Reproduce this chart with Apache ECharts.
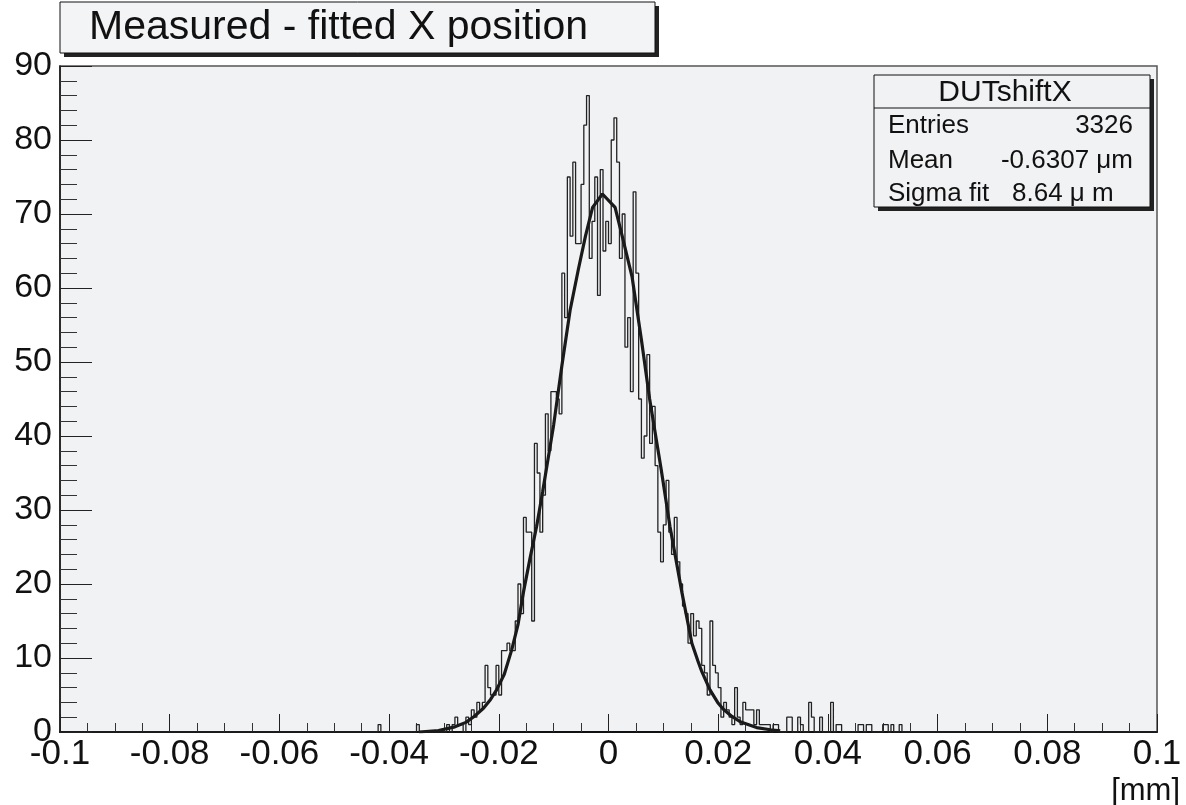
<!DOCTYPE html>
<html>
<head>
<meta charset="utf-8">
<script src="https://cdn.jsdelivr.net/npm/echarts/dist/echarts.min.js"></script>
<style>
html,body{margin:0;padding:0;background:#ffffff;}
#chart{width:1186px;height:805px;}
</style>
</head>
<body>
<div id="chart"></div>
<script>
// ---------------- data ----------------
const histTitle = 'Measured - fitted X position';
const statsName = 'DUTshiftX';
const statsLabels = ['Entries', 'Mean', 'Sigma fit'];
const statsValues = ['3326', '-0.6307 \u03bcm', '8.64 \u03bc m'];
const xUnit = '[mm]';
const xRange = [-0.1, 0.1];
const yRange = [0, 90];
const xStep = 0.02;
const yStep = 10;

// histogram: bins of width binWidth starting at binLow; counts start at bin index firstBin
const binLow = -0.1;
const binWidth = 0.0005;
const firstBin = 110;
const counts = [
  0,0,0,0,0,0,1,0,0,0,        // 110-119
  0,0,0,0,0,0,0,0,0,0,        // 120-129
  1,0,0,0,0,0,0,0,0,0,        // 130-139
  0,1,0,1,2,1,1,0,2,1,        // 140-149
  3,2,4,3,4,9,6,5,5,9,        // 150-159
  5,11,11,12,11,11,15,20,16,29,   // 160-169
  27,27,15,39,35,27,32,43,38,46,  // 170-179
  46,45,43,62,56,75,67,77,66,66,  // 180-189
  74,82,86,64,69,75,59,76,65,69,  // 190-199
  66,80,83,77,64,70,52,56,46,73,  // 200-209
  62,45,37,40,51,39,44,36,27,23,  // 210-219
  28,34,27,24,29,23,20,17,16,12,  // 220-229
  16,13,15,14,9,8,5,15,9,8,       // 230-239
  6,2,4,3,2,1,6,2,1,4,            // 240-249
  3,3,3,1,3,1,1,1,1,0,            // 250-259
  1,1,0,0,0,2,2,0,0,2,            // 260-269
  1,0,0,4,2,0,0,2,0,0,            // 270-279
  0,4,0,1,1,0,0,0,0,0,            // 280-289
  0,1,1,0,1,1,0,0,0,0,            // 290-299
  1,1,0,1,0,0,1,0,0,0             // 300-309
];

// gaussian fit curve
const fitX = [-0.0345,-0.031,-0.028,-0.026,-0.0245,-0.0228,-0.0215,-0.0204,-0.019,-0.01765,
  -0.0165,-0.01553,-0.0143,-0.0131,-0.012,-0.011,-0.010,-0.0085,-0.007,-0.0055,
  -0.0042,-0.0029,-0.0011,0.0012,0.0025,0.0043,0.006,0.0075,0.0096,0.0112,
  0.0134,0.0152,0.0163,0.017,0.0185,0.0199,0.0209,0.0225,0.024,0.027,0.0295,0.0313];
const fitY = [0.0,0.2,0.7,1.3,2.1,3.2,4.4,5.7,7.8,11.1,
  14.5,18.8,23.5,27.8,32.5,37.0,41.5,49.5,57.0,62.5,
  67.0,70.9,72.7,70.9,67.0,61.5,53.0,45.0,35.5,27.8,
  18.8,12.0,9.6,8.2,5.7,4.0,3.1,2.1,1.4,0.6,0.3,0.15];

// ---------------- build ----------------
const histPts = [[xRange[0], 0]];
counts.forEach((v, k) => {
  const lo = binLow + (firstBin + k) * binWidth;
  const hi = lo + binWidth;
  histPts.push([lo, v], [hi, v]);
});
histPts.push([xRange[1], 0]);
const fitPts = fitX.map((x, i) => [x, fitY[i]]);

const FONT = '"Liberation Sans", Arial, Helvetica, sans-serif';
const chart = echarts.init(document.getElementById('chart'), null, {renderer: 'canvas'});

const fmt = v => String(parseFloat(Number(v).toFixed(4)));

const option = {
  backgroundColor: '#ffffff',
  animation: false,
  textStyle: {fontFamily: FONT},
  grid: {
    left: 60, right: 29, top: 66, bottom: 73,
    show: true, backgroundColor: '#f1f2f4', borderColor: '#555', borderWidth: 1.5
  },
  xAxis: {
    type: 'value', min: xRange[0], max: xRange[1], interval: xStep,
    axisLine: {show: true, onZero: false, lineStyle: {color: '#111', width: 2}},
    axisTick: {show: true, inside: true, length: 18, lineStyle: {color: '#222', width: 1}},
    minorTick: {show: true, splitNumber: 4, length: 9, lineStyle: {color: '#333', width: 1}},
    splitLine: {show: false},
    axisLabel: {show: true, fontSize: 35, color: '#111', margin: 5, fontFamily: FONT, formatter: fmt}
  },
  yAxis: {
    type: 'value', min: yRange[0], max: yRange[1], interval: yStep,
    axisLine: {show: true, onZero: false, lineStyle: {color: '#111', width: 1.5}},
    axisTick: {show: true, inside: true, length: 32, lineStyle: {color: '#222', width: 1}},
    minorTick: {show: true, splitNumber: 5, length: 17, lineStyle: {color: '#333', width: 1}},
    splitLine: {show: false},
    axisLabel: {show: true, fontSize: 34, color: '#111', margin: 8, fontFamily: FONT}
  },
  series: [
    {
      type: 'line', data: histPts, symbol: 'none', silent: true,
      lineStyle: {color: '#222', width: 1.3}, z: 3
    },
    {
      type: 'line', data: fitPts, symbol: 'none', silent: true, smooth: false,
      lineStyle: {color: '#1a1a1a', width: 3.2}, z: 4
    }
  ],
  graphic: [
    // title pave
    {type: 'rect', shape: {x: 64, y: 6, width: 595, height: 51}, style: {fill: '#222'}, z: 10},
    {type: 'rect', shape: {x: 60, y: 2, width: 595, height: 51}, style: {fill: '#f3f4f6', stroke: '#111', lineWidth: 1}, z: 11},
    {type: 'text', x: 89, y: 28, style: {text: histTitle, font: '41px ' + FONT, fill: '#111', textVerticalAlign: 'middle', textAlign: 'left'}, z: 12},
    // stats box
    {type: 'rect', shape: {x: 878, y: 79, width: 276, height: 132}, style: {fill: '#222'}, z: 10},
    {type: 'rect', shape: {x: 874, y: 75, width: 276, height: 132}, style: {fill: '#f1f2f4', stroke: '#111', lineWidth: 1}, z: 11},
    {type: 'line', shape: {x1: 874, y1: 108, x2: 1150, y2: 108}, style: {stroke: '#111', lineWidth: 1}, z: 12},
    {type: 'text', x: 1005, y: 93, style: {text: statsName, font: '30px ' + FONT, fill: '#111', textAlign: 'center', textVerticalAlign: 'middle'}, z: 12},
    {type: 'text', x: 888, y: 126, style: {text: statsLabels[0], font: '26px ' + FONT, fill: '#111', textAlign: 'left', textVerticalAlign: 'middle'}, z: 12},
    {type: 'text', x: 1133, y: 126, style: {text: statsValues[0], font: '26px ' + FONT, fill: '#111', textAlign: 'right', textVerticalAlign: 'middle'}, z: 12},
    {type: 'text', x: 888, y: 161, style: {text: statsLabels[1], font: '26px ' + FONT, fill: '#111', textAlign: 'left', textVerticalAlign: 'middle'}, z: 12},
    {type: 'text', x: 1133, y: 161, style: {text: statsValues[1], font: '26px ' + FONT, fill: '#111', textAlign: 'right', textVerticalAlign: 'middle'}, z: 12},
    {type: 'text', x: 888, y: 194, style: {text: statsLabels[2], font: '26px ' + FONT, fill: '#111', textAlign: 'left', textVerticalAlign: 'middle'}, z: 12},
    {type: 'text', x: 1012, y: 194, style: {text: statsValues[2], font: '26px ' + FONT, fill: '#111', textAlign: 'left', textVerticalAlign: 'middle'}, z: 12},
    // axis unit
    {type: 'text', x: 1180, y: 791, style: {text: xUnit, font: '31px ' + FONT, fill: '#111', textAlign: 'right', textVerticalAlign: 'middle'}, z: 12}
  ]
};
chart.setOption(option);
</script>
</body>
</html>
